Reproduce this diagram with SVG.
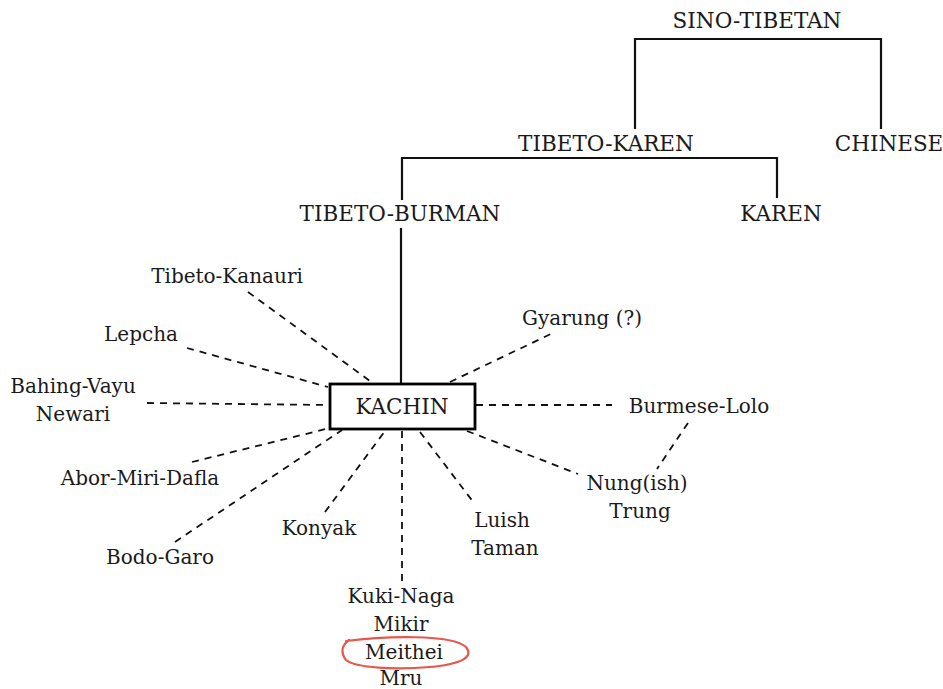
<svg xmlns="http://www.w3.org/2000/svg" width="943" height="689" viewBox="0 0 943 689">
<style>
text { font-family: 'DejaVu Serif', 'Liberation Serif', serif; font-size: 20px; fill: #1a1a1a; text-anchor: middle; }
text.cap { font-size: 21.5px; }
.solid { stroke: #111; stroke-width: 2.2; fill: none; }
.dash { stroke: #111; stroke-width: 1.8; fill: none; stroke-dasharray: 7 6; }
.box { fill: #fff; stroke: #000; stroke-width: 2.8; }
.mark { fill: none; stroke: #e8574c; stroke-width: 2.2; stroke-linecap: round; }
</style>
<rect width="943" height="689" fill="#fff"/>
<g id="connectors">
  <polyline class="solid" points="635,129 635,39 881,39 881,129"/>
  <polyline class="solid" points="402,200 402,158 777,158 777,198"/>
  <line class="solid" x1="401" y1="228" x2="401" y2="384"/>
  <line class="dash" x1="248" y1="292" x2="370" y2="381"/>
  <line class="dash" x1="187" y1="348" x2="328" y2="387"/>
  <line class="dash" x1="147" y1="403" x2="328" y2="405"/>
  <line class="dash" x1="192" y1="462" x2="330" y2="428"/>
  <line class="dash" x1="175" y1="542" x2="342" y2="430"/>
  <line class="dash" x1="325" y1="512" x2="385" y2="431"/>
  <line class="dash" x1="402" y1="431" x2="402" y2="583"/>
  <line class="dash" x1="420" y1="432" x2="474" y2="503"/>
  <line class="dash" x1="467" y1="431" x2="578" y2="474"/>
  <line class="dash" x1="476" y1="405" x2="612" y2="405"/>
  <line class="dash" x1="688" y1="423" x2="657" y2="469"/>
  <line class="dash" x1="450" y1="382" x2="555" y2="332"/>
</g>
<g id="sino-tibetan"><text class="cap" x="757" y="28">SINO-TIBETAN</text></g>
<g id="tibeto-karen"><text class="cap" x="606" y="151">TIBETO-KAREN</text></g>
<g id="chinese"><text class="cap" x="889" y="151">CHINESE</text></g>
<g id="tibeto-burman"><text class="cap" x="400" y="221">TIBETO-BURMAN</text></g>
<g id="karen"><text class="cap" x="781" y="221">KAREN</text></g>
<g id="kachin"><rect class="box" x="330" y="384" width="145" height="45"/><text class="cap" x="402" y="414">KACHIN</text></g>
<g id="tibeto-kanauri"><text x="227" y="283">Tibeto-Kanauri</text></g>
<g id="lepcha"><text x="141" y="341">Lepcha</text></g>
<g id="bahing-vayu"><text x="73" y="393">Bahing-Vayu</text><text x="73" y="421">Newari</text></g>
<g id="abor-miri-dafla"><text x="140" y="485">Abor-Miri-Dafla</text></g>
<g id="bodo-garo"><text x="160" y="564">Bodo-Garo</text></g>
<g id="konyak"><text x="319" y="535">Konyak</text></g>
<g id="kuki-naga"><text x="401" y="603">Kuki-Naga</text><text x="401" y="631">Mikir</text><text x="404" y="659">Meithei</text><text x="401" y="685">Mru</text></g>
<g id="luish"><text x="502" y="527">Luish</text><text x="505" y="555">Taman</text></g>
<g id="gyarung"><text x="582" y="325">Gyarung (?)</text></g>
<g id="burmese-lolo"><text x="699" y="413">Burmese-Lolo</text></g>
<g id="nung"><text x="637" y="490">Nung(ish)</text><text x="640" y="518">Trung</text></g>
<g id="highlight"><path class="mark" d="M346,641 C385,636 452,634 466,647 C474,657 462,664 430,667 C395,670 356,668 346,660 C340,652 342,645 349,640"/></g>
</svg>
